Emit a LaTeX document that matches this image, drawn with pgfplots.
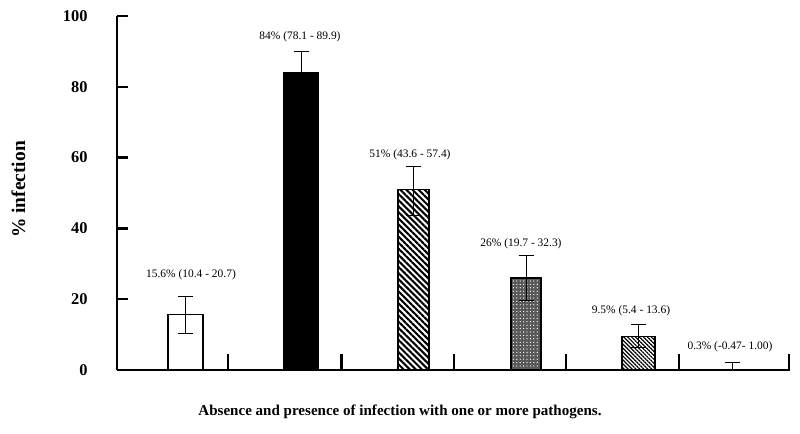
\documentclass[border=0pt]{standalone}
\usepackage{fontspec}
\setmainfont{Liberation Serif}
\usepackage{pgfplots}
\pgfplotsset{compat=1.18}
\usetikzlibrary{patterns.meta}
\begin{document}
\begin{tikzpicture}
\useasboundingbox (-117bp,-64bp) rectangle (683bp,370bp);
\begin{axis}[
  at={(0,0)}, anchor=south west,
  scale only axis, width=673bp, height=354bp,
  xmin=117, xmax=790, ymin=0, ymax=100,
  axis x line=bottom, axis y line=left,
  axis line style={-, line width=2.5bp},
  xtick=\empty,
  ytick={0,20,40,60,80,100},
  tick align=inside, major tick length=11bp,
  y tick style={line width=2.5bp, black},
  yticklabel style={font=\fontsize{16.5}{16.5}\selectfont\bfseries, xshift=-26bp},
  /pgf/number format/assume math mode=true,
  axis on top,
  clip=false,
  xlabel={Absence and presence of infection with one or more pathogens.},
  xlabel style={at={(axis description cs:0.4205,-0.1186)}, anchor=center, font=\fontsize{15.1}{15.1}\selectfont\bfseries},
  ylabel={\% infection},
  ylabel style={at={(axis description cs:-0.1464,0.51)}, anchor=center, font=\fontsize{19.5}{19.5}\selectfont\bfseries},
  every error bar/.append style={line width=0.9bp},
]
% bar 1
\addplot[ybar, bar shift=0pt, bar width=35bp, fill=white, draw=black, line width=1.1bp,
  error bars/.cd, y dir=both, y explicit,
  error mark options={rotate=90, mark size=7.5bp, line width=0.9bp}]
  coordinates {(185.5,15.6) += (0,5.1) -= (0,5.2)};
% bar 2
\addplot[ybar, bar shift=0pt, bar width=34bp, fill=black, draw=black, line width=1.1bp,
  error bars/.cd, y dir=both, y explicit,
  error mark options={rotate=90, mark size=7.5bp, line width=0.9bp}]
  coordinates {(301,84) += (0,5.9) -= (0,5.9)};
% bar 3
\addplot[ybar, bar shift=0pt, bar width=31bp, fill=white, draw=black, line width=1.1bp,
  postaction={pattern={Lines[angle=-45,distance=4.3bp,line width=2.1bp]}},
  error bars/.cd, y dir=both, y explicit,
  error mark options={rotate=90, mark size=7.5bp, line width=0.9bp}]
  coordinates {(413.5,51) += (0,6.4) -= (0,7.4)};
% bar 4
\addplot[ybar, bar shift=0pt, bar width=30bp, fill=black!65, draw=black, line width=1.1bp,
  postaction={pattern={Dots[distance=3.4bp,radius=0.65bp]}, pattern color=white},
  error bars/.cd, y dir=both, y explicit,
  error mark options={rotate=90, mark size=7.5bp, line width=0.9bp}]
  coordinates {(526,26) += (0,6.3) -= (0,6.3)};
% bar 5
\addplot[ybar, bar shift=0pt, bar width=33bp, fill=white, draw=black, line width=1.1bp,
  postaction={pattern={Lines[angle=-45,distance=2.8bp,line width=1.2bp]}},
  error bars/.cd, y dir=both, y explicit,
  error mark options={rotate=90, mark size=7.5bp, line width=0.9bp}]
  coordinates {(638.5,9.5) += (0,3.4) -= (0,3.0)};
% bar 6
\addplot[ybar, bar shift=0pt, bar width=30bp, fill=white, draw=none,
  error bars/.cd, y dir=both, y explicit,
  error bar style={black, line width=0.9bp},
  error mark options={black, rotate=90, mark size=7.5bp, line width=0.9bp}]
  coordinates {(732,0.3) += (0,1.9) -= (0,0.3)};
% x-axis tick marks
\addplot[ycomb, line width=2.5bp, black, mark=none]
  coordinates {(228,4.5) (341.7,4.5) (454,4.5) (566,4.5) (679,4.5) (789,4.5)};
% value labels
\begin{scope}[every node/.style={font=\fontsize{11.5}{11.5}\selectfont}]
\node at (axis cs:191,26.8) {15.6\% (10.4 - 20.7)};
\node at (axis cs:300,94.0) {84\% (78.1 - 89.9)};
\node at (axis cs:410,60.7) {51\% (43.6 - 57.4)};
\node at (axis cs:521,35.6) {26\% (19.7 - 32.3)};
\node at (axis cs:631,16.7) {9.5\% (5.4 - 13.6)};
\node at (axis cs:730,6.5) {0.3\% (-0.47- 1.00)};
\end{scope}
\end{axis}
\end{tikzpicture}
\end{document}
